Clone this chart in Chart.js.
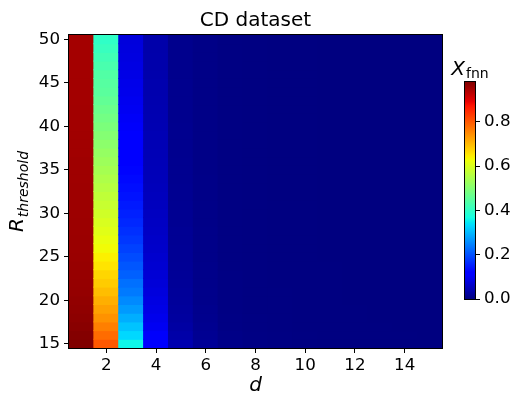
<!DOCTYPE html>
<html>
<head>
<meta charset="utf-8">
<title>CD dataset</title>
<script src="https://cdn.jsdelivr.net/npm/chart.js@4.4.1/dist/chart.umd.min.js"></script>
<style>
  html, body { margin: 0; padding: 0; background: #fff; }
  #wrap { position: relative; width: 510px; height: 396px; }
  #main { position: absolute; left: 0; top: 0; }
  #cbar { position: absolute; left: 440px; top: 0; }
</style>
</head>
<body>
<div id="wrap">
  <canvas id="main" width="510" height="396"></canvas>
  <canvas id="cbar" width="70" height="396"></canvas>
</div>
<script>
// Embedding dimension d (columns) and neighbour threshold R (rows)
const dValues = [1, 2, 3, 4, 5, 6, 7, 8, 9, 10, 11, 12, 13, 14, 15];
const rValues = [15, 16, 17, 18, 19, 20, 21, 22, 23, 24, 25, 26, 27, 28, 29, 30, 31, 32,
                 33, 34, 35, 36, 37, 38, 39, 40, 41, 42, 43, 44, 45, 46, 47, 48, 49, 50];
const xTicks = [2, 4, 6, 8, 10, 12, 14];
const yTicks = [15, 20, 25, 30, 35, 40, 45, 50];
const cbTicks = [0, 0.2, 0.4, 0.6, 0.8];

// False-nearest-neighbour fraction for each d, listed for R = 15 ... 50
const fnnD1 = [0.980, 0.976, 0.972, 0.969, 0.966, 0.964, 0.962, 0.961, 0.960, 0.959, 0.958, 0.957,
               0.957, 0.956, 0.956, 0.955, 0.955, 0.954, 0.954, 0.953, 0.953, 0.953, 0.952, 0.952,
               0.952, 0.951, 0.951, 0.951, 0.950, 0.950, 0.950, 0.950, 0.949, 0.949, 0.949, 0.949];
const fnnD2 = [0.800, 0.780, 0.760, 0.740, 0.725, 0.710, 0.695, 0.680, 0.670, 0.655, 0.643, 0.630,
               0.620, 0.610, 0.600, 0.590, 0.580, 0.570, 0.560, 0.550, 0.540, 0.530, 0.520, 0.510,
               0.500, 0.490, 0.480, 0.470, 0.460, 0.450, 0.445, 0.440, 0.430, 0.420, 0.410, 0.400];
const fnnD3 = [0.360, 0.330, 0.310, 0.290, 0.270, 0.255, 0.240, 0.230, 0.215, 0.205, 0.195, 0.185,
               0.175, 0.168, 0.160, 0.153, 0.147, 0.140, 0.135, 0.130, 0.125, 0.120, 0.115, 0.110,
               0.108, 0.105, 0.102, 0.098, 0.095, 0.092, 0.090, 0.087, 0.084, 0.082, 0.080, 0.078];
const fnnD4 = [0.115, 0.105, 0.098, 0.092, 0.087, 0.083, 0.079, 0.075, 0.072, 0.069, 0.066, 0.063,
               0.061, 0.059, 0.057, 0.055, 0.053, 0.052, 0.050, 0.049, 0.048, 0.047, 0.046, 0.045,
               0.044, 0.043, 0.042, 0.041, 0.040, 0.039, 0.039, 0.038, 0.037, 0.037, 0.036, 0.036];
const fnnD5 = [0.040, 0.034, 0.030, 0.027, 0.025, 0.023, 0.022, 0.021, 0.020, 0.019, 0.018, 0.018,
               0.017, 0.017, 0.016, 0.016, 0.015, 0.015, 0.015, 0.014, 0.014, 0.014, 0.013, 0.013,
               0.013, 0.013, 0.012, 0.012, 0.012, 0.012, 0.012, 0.011, 0.011, 0.011, 0.011, 0.011];
const fnnD6 = [0.020, 0.016, 0.014, 0.012, 0.011, 0.010, 0.010, 0.009, 0.009, 0.009, 0.008, 0.008,
               0.008, 0.008, 0.007, 0.007, 0.007, 0.007, 0.007, 0.007, 0.006, 0.006, 0.006, 0.006,
               0.006, 0.006, 0.006, 0.006, 0.006, 0.006, 0.006, 0.006, 0.006, 0.006, 0.006, 0.006];
const fnnD7 = [0.008, 0.006, 0.005, 0.005, 0.004, 0.004, 0.004, 0.004, 0.004, 0.003, 0.003, 0.003,
               0.003, 0.003, 0.003, 0.003, 0.003, 0.003, 0.003, 0.003, 0.003, 0.003, 0.003, 0.003,
               0.003, 0.003, 0.003, 0.003, 0.003, 0.003, 0.003, 0.003, 0.003, 0.003, 0.003, 0.003];
const fnnD8 = [0.005, 0.004, 0.003, 0.003, 0.002, 0.002, 0.002, 0.002, 0.002, 0.002, 0.002, 0.002,
               0.002, 0.002, 0.002, 0.002, 0.002, 0.002, 0.002, 0.002, 0.002, 0.002, 0.002, 0.002,
               0.002, 0.002, 0.002, 0.002, 0.002, 0.002, 0.002, 0.002, 0.002, 0.002, 0.002, 0.002];
const fnnD9 = [0.003, 0.003, 0.002, 0.002, 0.002, 0.002, 0.002, 0.001, 0.001, 0.001, 0.001, 0.001,
               0.001, 0.001, 0.001, 0.001, 0.001, 0.001, 0.001, 0.001, 0.001, 0.001, 0.001, 0.001,
               0.001, 0.001, 0.001, 0.001, 0.001, 0.001, 0.001, 0.001, 0.001, 0.001, 0.001, 0.001];
const fnnD10 = [0.002, 0.002, 0.001, 0.001, 0.001, 0.001, 0.001, 0.001, 0.001, 0.001, 0.001, 0.001,
                0.001, 0.001, 0.001, 0.001, 0.001, 0.001, 0.001, 0.001, 0.001, 0.001, 0.001, 0.001,
                0.001, 0.001, 0.001, 0.001, 0.001, 0.001, 0.001, 0.001, 0.001, 0.001, 0.001, 0.001];
const fnnD11 = [0.001, 0.001, 0.001, 0.001, 0.001, 0.001, 0.001, 0.001, 0.001, 0.001, 0.000, 0.000,
                0.000, 0.000, 0.000, 0.000, 0.000, 0.000, 0.000, 0.000, 0.000, 0.000, 0.000, 0.000,
                0.000, 0.000, 0.000, 0.000, 0.000, 0.000, 0.000, 0.000, 0.000, 0.000, 0.000, 0.000];
const fnnD12 = [0.001, 0.001, 0.001, 0.001, 0.001, 0.000, 0.000, 0.000, 0.000, 0.000, 0.000, 0.000,
                0.000, 0.000, 0.000, 0.000, 0.000, 0.000, 0.000, 0.000, 0.000, 0.000, 0.000, 0.000,
                0.000, 0.000, 0.000, 0.000, 0.000, 0.000, 0.000, 0.000, 0.000, 0.000, 0.000, 0.000];
const fnnD13 = [0.001, 0.001, 0.001, 0.000, 0.000, 0.000, 0.000, 0.000, 0.000, 0.000, 0.000, 0.000,
                0.000, 0.000, 0.000, 0.000, 0.000, 0.000, 0.000, 0.000, 0.000, 0.000, 0.000, 0.000,
                0.000, 0.000, 0.000, 0.000, 0.000, 0.000, 0.000, 0.000, 0.000, 0.000, 0.000, 0.000];
const fnnD14 = [0.001, 0.001, 0.000, 0.000, 0.000, 0.000, 0.000, 0.000, 0.000, 0.000, 0.000, 0.000,
                0.000, 0.000, 0.000, 0.000, 0.000, 0.000, 0.000, 0.000, 0.000, 0.000, 0.000, 0.000,
                0.000, 0.000, 0.000, 0.000, 0.000, 0.000, 0.000, 0.000, 0.000, 0.000, 0.000, 0.000];
const fnnD15 = [0.001, 0.000, 0.000, 0.000, 0.000, 0.000, 0.000, 0.000, 0.000, 0.000, 0.000, 0.000,
                0.000, 0.000, 0.000, 0.000, 0.000, 0.000, 0.000, 0.000, 0.000, 0.000, 0.000, 0.000,
                0.000, 0.000, 0.000, 0.000, 0.000, 0.000, 0.000, 0.000, 0.000, 0.000, 0.000, 0.000];

const columns = [fnnD1, fnnD2, fnnD3, fnnD4, fnnD5, fnnD6, fnnD7, fnnD8,
                 fnnD9, fnnD10, fnnD11, fnnD12, fnnD13, fnnD14, fnnD15];
const vmax = Math.max(...columns.flat());

// matplotlib "jet" segment data: [position, value]
const JET = {
  r: [[0, 0], [0.35, 0], [0.66, 1], [0.89, 1], [1, 0.5]],
  g: [[0, 0], [0.125, 0], [0.375, 1], [0.64, 1], [0.91, 0], [1, 0]],
  b: [[0, 0.5], [0.11, 1], [0.34, 1], [0.65, 0], [1, 0]]
};
function seg(points, t) {
  for (let i = 1; i < points.length; i++) {
    const [x0, y0] = points[i - 1], [x1, y1] = points[i];
    if (t <= x1) return y0 + (y1 - y0) * (t - x0) / (x1 - x0);
  }
  return points[points.length - 1][1];
}
function jet(t) {
  t = Math.min(1, Math.max(0, t));
  const c = ['r', 'g', 'b'].map(k => Math.round(seg(JET[k], t) * 255));
  return `rgb(${c[0]},${c[1]},${c[2]})`;
}

// One floating bar per (d, R) cell, spanning R ± 0.5
const cells = [];
dValues.forEach((d, i) => {
  rValues.forEach((r, j) => {
    cells.push({ x: d, y: [r - 0.5, r + 0.5], v: columns[i][j] });
  });
});

Chart.defaults.font.family = "'DejaVu Sans', sans-serif";
Chart.defaults.color = '#000';
const TICK_SIZE = 16.7;

const frame = {
  id: 'frame',
  afterDatasetsDraw(chart) {
    const { ctx, chartArea: a } = chart;
    ctx.save();
    ctx.strokeStyle = '#000';
    ctx.lineWidth = 1;
    ctx.strokeRect(Math.round(a.left) - 0.5, Math.round(a.top) - 0.5,
                   Math.round(a.right - a.left) + 1, Math.round(a.bottom - a.top) + 1);
    ctx.restore();
  }
};

// Rotated y-axis label R_threshold
const yLabel = {
  id: 'yLabel',
  afterDraw(chart) {
    const { ctx, chartArea: a } = chart;
    const main = "italic 20px 'DejaVu Sans'";
    const sub = "italic 14px 'DejaVu Sans'";
    ctx.save();
    ctx.fillStyle = '#000';
    ctx.font = main;
    const wR = ctx.measureText('R').width;
    ctx.font = sub;
    const wS = ctx.measureText('threshold').width;
    const total = wR + 1 + wS;
    const cy = (a.top + a.bottom) / 2;
    ctx.translate(23, cy + total / 2);
    ctx.rotate(-Math.PI / 2);
    ctx.textBaseline = 'alphabetic';
    ctx.textAlign = 'left';
    ctx.font = main;
    ctx.fillText('R', 0, 0);
    ctx.font = sub;
    ctx.fillText('threshold', wR + 1, 5);
    ctx.restore();
  }
};

new Chart(document.getElementById('main'), {
  type: 'bar',
  data: {
    datasets: [{
      data: cells,
      backgroundColor: ctx => (ctx.raw ? jet(ctx.raw.v / vmax) : 'rgba(0,0,0,0)'),
      borderWidth: 0,
      barPercentage: 1,
      categoryPercentage: 1,
      inflateAmount: 0.5,
      grouped: false
    }]
  },
  options: {
    responsive: false,
    animation: false,
    events: [],
    layout: { padding: { left: 0, top: 0, right: 68, bottom: 0 } },
    plugins: {
      legend: { display: false },
      tooltip: { enabled: false },
      title: {
        display: true,
        text: 'CD dataset',
        fullSize: false,
        color: '#000',
        font: { size: 20, weight: 'normal', lineHeight: 1.2 },
        padding: { top: 9, bottom: 2 }
      }
    },
    scales: {
      x: {
        type: 'linear',
        min: 0.5,
        max: 15.5,
        offset: false,
        afterBuildTicks: s => { s.ticks = xTicks.map(v => ({ value: v })); },
        afterFit: s => { s.height = 48; },
        ticks: { font: { size: TICK_SIZE }, color: '#000', padding: 3, maxRotation: 0, autoSkip: false,
                 callback: v => String(v) },
        grid: { display: true, drawOnChartArea: false, drawTicks: true, tickLength: 5,
                color: '#000', offset: false },
        border: { display: true, color: '#000', width: 1 },
        title: { display: true, text: 'd', color: '#000',
                 font: { size: 20, style: 'italic', lineHeight: 1 }, padding: { top: 0, bottom: 0 } }
      },
      y: {
        type: 'linear',
        min: 14.5,
        max: 50.5,
        afterBuildTicks: s => { s.ticks = yTicks.map(v => ({ value: v })); },
        afterFit: s => { s.width = 69; },
        ticks: { font: { size: TICK_SIZE }, color: '#000', padding: 4, callback: v => String(v) },
        grid: { display: true, drawOnChartArea: false, drawTicks: true, tickLength: 5, color: '#000' },
        border: { display: true, color: '#000', width: 1 }
      }
    }
  },
  plugins: [frame, yLabel]
});

// Colour bar: one bar from 0 to vmax filled with the jet ramp
const cbLabel = {
  id: 'cbLabel',
  afterDraw(chart) {
    const { ctx, chartArea: a } = chart;
    ctx.save();
    ctx.strokeStyle = '#000';
    ctx.lineWidth = 1;
    ctx.strokeRect(Math.round(a.left) - 0.5, Math.round(a.top) - 0.5,
                   Math.round(a.right - a.left) + 1, Math.round(a.bottom - a.top) + 1);
    ctx.fillStyle = '#000';
    ctx.textBaseline = 'alphabetic';
    ctx.textAlign = 'left';
    const main = "italic 20px 'DejaVu Sans'";
    const sub = "14px 'DejaVu Sans'";
    ctx.font = main;
    const wX = ctx.measureText('X').width;
    ctx.font = sub;
    const wS = ctx.measureText('fnn').width;
    const total = wX + 1 + wS;
    const cx = (a.left + a.right) / 2;
    const x0 = cx - total / 2;
    ctx.font = main;
    ctx.fillText('X', x0, 75);
    ctx.font = sub;
    ctx.fillText('fnn', x0 + wX + 1, 78);
    ctx.restore();
  }
};

function rampFill(ctx) {
  const chart = ctx.chart;
  const a = chart.chartArea;
  if (!a) return 'rgba(0,0,0,0)';
  const y = chart.scales.y;
  const g = chart.ctx.createLinearGradient(0, y.getPixelForValue(0), 0, y.getPixelForValue(vmax));
  const stops = [0, 0.11, 0.125, 0.34, 0.35, 0.375, 0.64, 0.65, 0.66, 0.89, 0.91, 1];
  stops.forEach(t => g.addColorStop(t, jet(t)));
  return g;
}

new Chart(document.getElementById('cbar'), {
  type: 'bar',
  data: {
    labels: ['X'],
    datasets: [{
      data: [[0, vmax]],
      backgroundColor: rampFill,
      borderWidth: 0,
      barPercentage: 1,
      categoryPercentage: 1,
      inflateAmount: 0.5
    }]
  },
  options: {
    responsive: false,
    animation: false,
    events: [],
    layout: { padding: { left: 25, top: 82, right: 0, bottom: 97 } },
    plugins: { legend: { display: false }, tooltip: { enabled: false }, title: { display: false } },
    scales: {
      x: { display: false, offset: true },
      y: {
        position: 'right',
        min: 0,
        max: vmax,
        afterBuildTicks: s => { s.ticks = cbTicks.map(v => ({ value: v })); },
        afterFit: s => { s.width = 35; },
        ticks: { font: { size: TICK_SIZE }, color: '#000', padding: 4, callback: v => v.toFixed(1) },
        grid: { display: true, drawOnChartArea: false, drawTicks: true, tickLength: 5, color: '#000' },
        border: { display: false }
      }
    }
  },
  plugins: [cbLabel]
});
</script>
</body>
</html>
